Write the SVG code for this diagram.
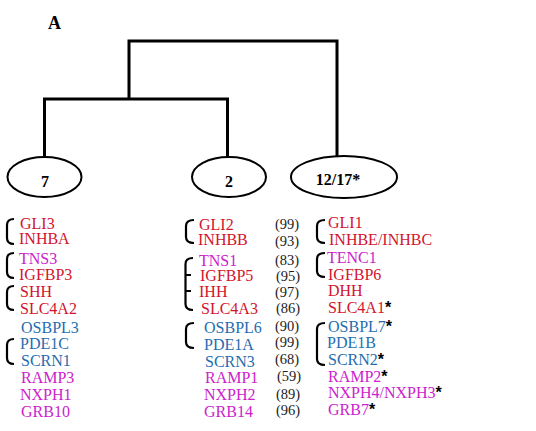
<svg xmlns="http://www.w3.org/2000/svg" width="536" height="431" viewBox="0 0 536 431">
<style>
.g{font-family:"Liberation Serif","Times New Roman",serif;font-size:16px}
.r{fill:#d2142e}
.m{fill:#cc22cc}
.b{fill:#1f6db0}
.n{font-family:"Liberation Serif","Times New Roman",serif;font-size:14.5px;fill:#222}
.s{fill:#000;font-family:"Liberation Sans",Arial,sans-serif;font-weight:bold}
.br{fill:none;stroke:#000;stroke-width:2.2}
.lbl{font-family:"Liberation Serif","Times New Roman",serif;font-size:16px;font-weight:bold;text-anchor:middle}
.el{fill:#fff;stroke:#000;stroke-width:2}
</style>
<rect width="536" height="431" fill="#fff"/>
<text x="48" y="29" font-family="Liberation Serif, serif" font-size="18" font-weight="bold">A</text>
<g id="connectors" fill="none" stroke="#000" stroke-width="3">
<path d="M44.5,157 V99 H227.5 V157"/>
<path d="M129,99 V41 H337 V156"/>
</g>
<g id="node-7"><ellipse class="el" cx="44.5" cy="177" rx="37" ry="20"/><text class="lbl" x="45" y="187">7</text></g>
<g id="node-2"><ellipse class="el" cx="229" cy="177" rx="37" ry="20"/><text class="lbl" x="229" y="187">2</text></g>
<g id="node-12-17"><ellipse class="el" cx="344" cy="177" rx="53" ry="21"/><text class="lbl" x="338" y="185">12/17*</text></g>
<g id="list-7" class="g">
<path class="br" d="M14,219 Q7,219 7,225 V238 Q7,244 14,244"/>
<path class="br" d="M14,253 Q7,253 7,259 V272 Q7,278 14,278"/>
<path class="br" d="M14,286 Q7,286 7,292 V304 Q7,310 14,310"/>
<path class="br" d="M14,339 Q7,339 7,345 V358 Q7,364 14,364"/>
<text class="r" x="20" y="229">GLI3</text>
<text class="r" x="19" y="244">INHBA</text>
<text class="m" x="19" y="264">TNS3</text>
<text class="r" x="19" y="280">IGFBP3</text>
<text class="r" x="20" y="297">SHH</text>
<text class="r" x="20" y="314">SLC4A2</text>
<text class="b" x="21" y="333">OSBPL3</text>
<text class="b" x="20" y="349">PDE1C</text>
<text class="b" x="21" y="366">SCRN1</text>
<text class="m" x="21" y="383">RAMP3</text>
<text class="m" x="20" y="400">NXPH1</text>
<text class="m" x="21" y="417">GRB10</text>
</g>
<g id="list-2" class="g">
<path class="br" d="M194,220 Q186,220 186,226 V237 Q186,243 194,243"/>
<path class="br" d="M193,258 Q185.5,258 185.5,264 M185.5,264 V304 Q185.5,310 193,310 M185.5,275 H191 M185.5,291 H191"/>
<path class="br" d="M194,323 Q186,323 186,329 V342 Q186,348 194,348"/>
<text class="r" x="199" y="230">GLI2</text>
<text class="r" x="198" y="245">INHBB</text>
<text class="m" x="199" y="266">TNS1</text>
<text class="r" x="200" y="281">IGFBP5</text>
<text class="r" x="199" y="297">IHH</text>
<text class="r" x="201" y="314">SLC4A3</text>
<text class="b" x="204" y="333">OSBPL6</text>
<text class="b" x="204" y="350">PDE1A</text>
<text class="b" x="205" y="367">SCRN3</text>
<text class="m" x="205" y="383">RAMP1</text>
<text class="m" x="204" y="400">NXPH2</text>
<text class="m" x="204" y="417">GRB14</text>
</g>
<g id="scores" class="n">
<text x="275" y="229">(99)</text>
<text x="275" y="246">(93)</text>
<text x="275" y="265">(83)</text>
<text x="276" y="281">(95)</text>
<text x="275" y="297">(97)</text>
<text x="276" y="313">(86)</text>
<text x="275" y="331">(90)</text>
<text x="275" y="347">(99)</text>
<text x="275" y="364">(68)</text>
<text x="277" y="381">(59)</text>
<text x="276" y="399">(89)</text>
<text x="276" y="415">(96)</text>
</g>
<g id="list-12-17" class="g">
<path class="br" d="M325,220 Q317,220 317,226 V237 Q317,243 325,243"/>
<path class="br" d="M325,253 Q317,253 317,259 V271 Q317,277 325,277"/>
<path class="br" d="M325,323 Q317,323 317,329 V359 Q317,365 325,365"/>
<text class="r" x="328" y="228">GLI1</text>
<text class="r" x="329" y="245">INHBE/INHBC</text>
<text class="m" x="327" y="263">TENC1</text>
<text class="r" x="328" y="280">IGFBP6</text>
<text class="r" x="328" y="296">DHH</text>
<text class="r" x="328" y="313">SLC4A1<tspan class="s">*</tspan></text>
<text class="b" x="328" y="332">OSBPL7<tspan class="s">*</tspan></text>
<text class="b" x="327" y="348">PDE1B</text>
<text class="b" x="328" y="365">SCRN2<tspan class="s">*</tspan></text>
<text class="m" x="328" y="382">RAMP2<tspan class="s">*</tspan></text>
<text class="m" x="328" y="398">NXPH4/NXPH3<tspan class="s">*</tspan></text>
<text class="m" x="328" y="415">GRB7<tspan class="s">*</tspan></text>
</g>
</svg>
